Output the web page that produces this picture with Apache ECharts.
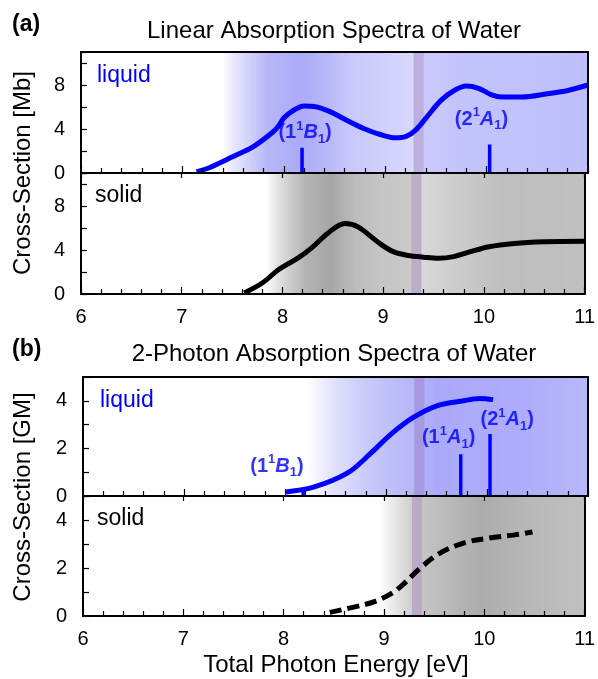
<!DOCTYPE html>
<html><head><meta charset="utf-8">
<script src="https://cdn.jsdelivr.net/npm/echarts@6/dist/echarts.min.js"></script>
<style>html,body{margin:0;padding:0;background:#fff}#c{width:598px;height:679px}</style>
</head><body><div id="c"></div>
<script>
// ---- data ----
var xTicks = [6, 7, 8, 9, 10, 11];
var liquidA_x = [7.14, 7.27, 7.5, 7.7, 7.89, 7.95, 8.0, 8.08, 8.2, 8.3, 8.45, 8.62, 8.8, 8.95, 9.1, 9.2, 9.3, 9.42, 9.55, 9.68, 9.8, 9.92, 10.05, 10.15, 10.35, 10.6, 10.8, 11.0];
var liquidA_y = [0.1, 0.5, 1.5, 2.4, 3.7, 4.3, 5.0, 5.6, 6.1, 6.05, 5.6, 4.8, 4.0, 3.5, 3.2, 3.3, 3.9, 5.2, 6.6, 7.5, 7.9, 7.7, 7.1, 6.9, 6.9, 7.2, 7.5, 8.0];
var solidA_x = [7.62, 7.8, 7.96, 8.16, 8.29, 8.46, 8.62, 8.75, 8.95, 9.1, 9.25, 9.4, 9.55, 9.7, 9.85, 10.05, 10.3, 10.6, 11.0];
var solidA_y = [0.1, 1.0, 2.2, 3.3, 4.2, 5.6, 6.4, 6.1, 4.7, 3.85, 3.5, 3.35, 3.25, 3.4, 3.8, 4.3, 4.6, 4.75, 4.8];
var liquidB_x = [8.01, 8.29, 8.62, 8.85, 9.05, 9.27, 9.51, 9.77, 9.93, 10.06];
var liquidB_y = [0.17, 0.38, 0.97, 1.8, 2.6, 3.3, 3.8, 4.0, 4.1, 4.05];
var solidB_x = [8.46, 8.78, 8.92, 9.08, 9.2, 9.35, 9.55, 9.8, 10.05, 10.3, 10.48];
var solidB_y = [0.15, 0.45, 0.62, 0.95, 1.35, 1.95, 2.6, 3.05, 3.25, 3.38, 3.5];
// excited states (stick positions / heights)
var statesA_x = [8.18, 10.03];
var statesA_h = [2.3, 2.6];
var statesA_lab = ['1|1|B', '2|1|A'];
var statesA_lx = [8.21, 9.95];
var statesA_ly = [3.65, 4.9];
var statesB_x = [8.18, 9.74, 10.03];
var statesB_h = [0.3, 1.75, 2.6];
var statesB_lab = ['1|1|B', '1|1|A', '2|1|A'];
var statesB_lx = [7.92, 9.62, 10.2];
var statesB_ly = [1.25, 2.45, 3.2];
var band = [9.28, 9.38];

// ---- chart ----
var FF = '"Liberation Sans", Arial, sans-serif';
var BLUE = '#0000ff';
function zip(a, b) { return a.map(function (v, i) { return [v, b[i]]; }); }
function grad(stops) {
  return { type: 'linear', x: 0, y: 0, x2: 1, y2: 0,
    colorStops: stops.map(function (s) { return { offset: (s[0] - 6) / 5, color: s[1] }; }) };
}
var bgA1 = grad([[6, '#ffffff'], [7.4, '#ffffff'], [7.5, '#e8e8fc'], [7.83, '#b8b8f8'], [8.16, '#aaaaf8'], [8.43, '#b8b8f8'], [8.65, '#c8c8fa'], [8.98, '#d0d0fc'], [9.27, '#d8d8fc'], [9.38, '#cacafc'], [9.7, '#c4c4fc'], [11, '#bebefc']]);
var bgA2 = grad([[6, '#ffffff'], [7.83, '#ffffff'], [7.96, '#e0e0e0'], [8.23, '#b4b4b4'], [8.48, '#a6a6a6'], [8.72, '#bcbcbc'], [8.95, '#c4c4c4'], [9.27, '#cacaca'], [9.38, '#d8d8d8'], [9.87, '#c8c8c8'], [10.2, '#bebebe'], [11, '#c0c0c0']]);
var bgB1 = grad([[6, '#ffffff'], [8.2, '#ffffff'], [8.5, '#e0e0fc'], [8.83, '#c8c8fa'], [9.27, '#b6b6f8'], [9.5, '#aaaaf8'], [10.33, '#acacfa'], [11, '#b8b8fa']]);
var bgB2 = grad([[6, '#ffffff'], [8.95, '#ffffff'], [9.15, '#e0e0e0'], [9.27, '#d0d0d0'], [9.41, '#c4c4c4'], [9.96, '#acacac'], [10.46, '#b8b8b8'], [11, '#c0c0c0']]);

var grids = [
  { left: 81, right: 10, top: 52, height: 121 },
  { left: 81, right: 10, top: 173, height: 121 },
  { left: 83, right: 10, top: 377, height: 119 },
  { left: 83, right: 10, top: 496, height: 120 }
];
var yMax = [11, 11, 5, 5];
var yInt = [2, 2, 1, 1];
var yLab = [4, 4, 2, 2];

var xAxes = [], yAxes = [];
grids.forEach(function (g, i) {
  var bottomLabels = (i === 1 || i === 3);
  xAxes.push({ gridIndex: i, type: 'value', min: 6, max: 11, interval: 1, position: 'bottom', z: 10,
    axisLine: { onZero: false, lineStyle: { color: '#000', width: 2 } },
    axisTick: { inside: true, length: 7, lineStyle: { color: '#000', width: 1.2 } },
    minorTick: { show: true, splitNumber: 5, length: 5, lineStyle: { color: '#000', width: 1.2 } },
    axisLabel: { show: bottomLabels, margin: 13, color: '#000', fontSize: 20, fontFamily: FF },
    splitLine: { show: false } });
  xAxes.push({ gridIndex: i, type: 'value', min: 6, max: 11, interval: 1, position: 'top', z: 10,
    axisLine: { onZero: false, lineStyle: { color: '#000', width: 2 } },
    axisTick: { show: bottomLabels, inside: true, length: 5, lineStyle: { color: '#000', width: 1.2 } },
    axisLabel: { show: false }, splitLine: { show: false } });
  yAxes.push({ gridIndex: i, type: 'value', min: 0, max: yMax[i], interval: yInt[i], position: 'left', z: 10,
    axisLine: { show: true, onZero: false, lineStyle: { color: '#000', width: 2 } },
    axisTick: { show: true, inside: true, length: 6, lineStyle: { color: '#000', width: 1.2 } },
    axisLabel: { margin: 16, color: '#000', fontSize: 20, fontFamily: FF,
      formatter: (function (m) { return function (v) { return v % m === 0 ? String(v) : ''; }; })(yLab[i]) },
    splitLine: { show: false } });
  yAxes.push({ gridIndex: i, type: 'value', min: 0, max: yMax[i], position: 'right', z: 10,
    axisLine: { show: true, onZero: false, lineStyle: { color: '#000', width: 2 } },
    axisTick: { show: false }, axisLabel: { show: false }, splitLine: { show: false } });
});

function bgArea(g, bandColor) {
  return { silent: true, itemStyle: { opacity: 1 }, data: [
    [{ xAxis: 6, itemStyle: { color: g, opacity: 1 } }, { xAxis: 11 }],
    [{ xAxis: band[0], itemStyle: { color: bandColor, opacity: 1 } }, { xAxis: band[1] }]
  ] };
}
var rich = {
  p: { fontSize: 20, fontWeight: 'bold', color: BLUE, fontFamily: FF, lineHeight: 26 },
  i: { fontSize: 20, fontWeight: 'bold', fontStyle: 'italic', color: BLUE, fontFamily: FF, lineHeight: 26 },
  sup: { fontSize: 13, fontWeight: 'bold', color: BLUE, fontFamily: FF, verticalAlign: 'top', lineHeight: 18 },
  sub: { fontSize: 13, fontWeight: 'bold', color: BLUE, fontFamily: FF, verticalAlign: 'bottom', lineHeight: 13 }
};
function stateText(s) {
  var p = s.split('|');
  return '{p|(' + p[0] + '}{sup|' + p[1] + '}{i|' + p[2] + '}{sub|1}{p|)}';
}
function sticks(xs, hs, xi, yi) {
  return xs.map(function (x, k) {
    return { type: 'line', xAxisIndex: xi, yAxisIndex: yi, symbol: 'none', z: 3, silent: true,
      lineStyle: { color: BLUE, width: 3.5 }, data: [[x, 0], [x, hs[k]]] };
  });
}
function labels(lx, ly, lab, xi, yi) {
  return { type: 'scatter', xAxisIndex: xi, yAxisIndex: yi, symbolSize: 0, z: 6, silent: true,
    data: zip(lx, ly),
    label: { show: true, position: 'inside', rich: rich,
      formatter: function (p) { return stateText(lab[p.dataIndex]); } } };
}

var series = [];
series.push({ type: 'line', xAxisIndex: 0, yAxisIndex: 0, data: zip(liquidA_x, liquidA_y), smooth: 0.35, symbol: 'none', z: 4,
  lineStyle: { color: BLUE, width: 5 }, markArea: bgArea(bgA1, '#bdb0e0') });
series.push({ type: 'line', xAxisIndex: 2, yAxisIndex: 2, data: zip(solidA_x, solidA_y), smooth: 0.35, symbol: 'none', z: 4,
  lineStyle: { color: '#000', width: 5 }, markArea: bgArea(bgA2, '#bbaec8') });
series.push({ type: 'line', xAxisIndex: 4, yAxisIndex: 4, data: zip(liquidB_x, liquidB_y), smooth: 0.35, symbol: 'none', z: 4,
  lineStyle: { color: BLUE, width: 5 }, markArea: bgArea(bgB1, '#a898e0') });
series.push({ type: 'line', xAxisIndex: 6, yAxisIndex: 6, data: zip(solidB_x, solidB_y), smooth: 0.35, symbol: 'none', z: 4,
  lineStyle: { color: '#000', width: 5, type: [12, 6] }, markArea: bgArea(bgB2, '#bbaac8') });
series = series.concat(sticks(statesA_x, statesA_h, 0, 0), sticks(statesB_x, statesB_h, 4, 4));
series.push(labels(statesA_lx, statesA_ly, statesA_lab, 0, 0));
series.push(labels(statesB_lx, statesB_ly, statesB_lab, 4, 4));

function txt(x, y, s, opt) {
  var st = { text: s, x: 0, y: 0, fill: '#000', fontSize: 23, fontFamily: FF, textAlign: 'left', textVerticalAlign: 'middle' };
  for (var k in opt) st[k] = opt[k];
  return { type: 'text', x: x, y: y, z: 20, style: st };
}
var graphic = [
  txt(12, 25, '(a)', { fontWeight: 'bold', fontSize: 23 }),
  txt(334, 31, 'Linear Absorption Spectra of Water', { textAlign: 'center', fontSize: 24 }),
  txt(12, 350, '(b)', { fontWeight: 'bold', fontSize: 23 }),
  txt(334, 354, '2-Photon Absorption Spectra of Water', { textAlign: 'center', fontSize: 24 }),
  txt(97, 76, 'liquid', { fill: BLUE, fontSize: 23 }),
  txt(95, 196, 'solid', { fontSize: 23 }),
  txt(100, 401, 'liquid', { fill: BLUE, fontSize: 23 }),
  txt(97, 519, 'solid', { fontSize: 23 }),
  txt(336, 665, 'Total Photon Energy [eV]', { textAlign: 'center', fontSize: 24 }),
  { type: 'text', x: 23, y: 173, rotation: Math.PI / 2, z: 20,
    style: { text: 'Cross-Section [Mb]', fill: '#000', fontSize: 24, fontFamily: FF, textAlign: 'center', textVerticalAlign: 'middle' } },
  { type: 'text', x: 23, y: 497, rotation: Math.PI / 2, z: 20,
    style: { text: 'Cross-Section [GM]', fill: '#000', fontSize: 24, fontFamily: FF, textAlign: 'center', textVerticalAlign: 'middle' } }
];

var chart = echarts.init(document.getElementById('c'), null, { renderer: 'canvas' });
chart.setOption({
  animation: false,
  backgroundColor: '#fff',
  grid: grids,
  xAxis: xAxes,
  yAxis: yAxes,
  series: series,
  graphic: graphic
});
</script>
</body></html>
